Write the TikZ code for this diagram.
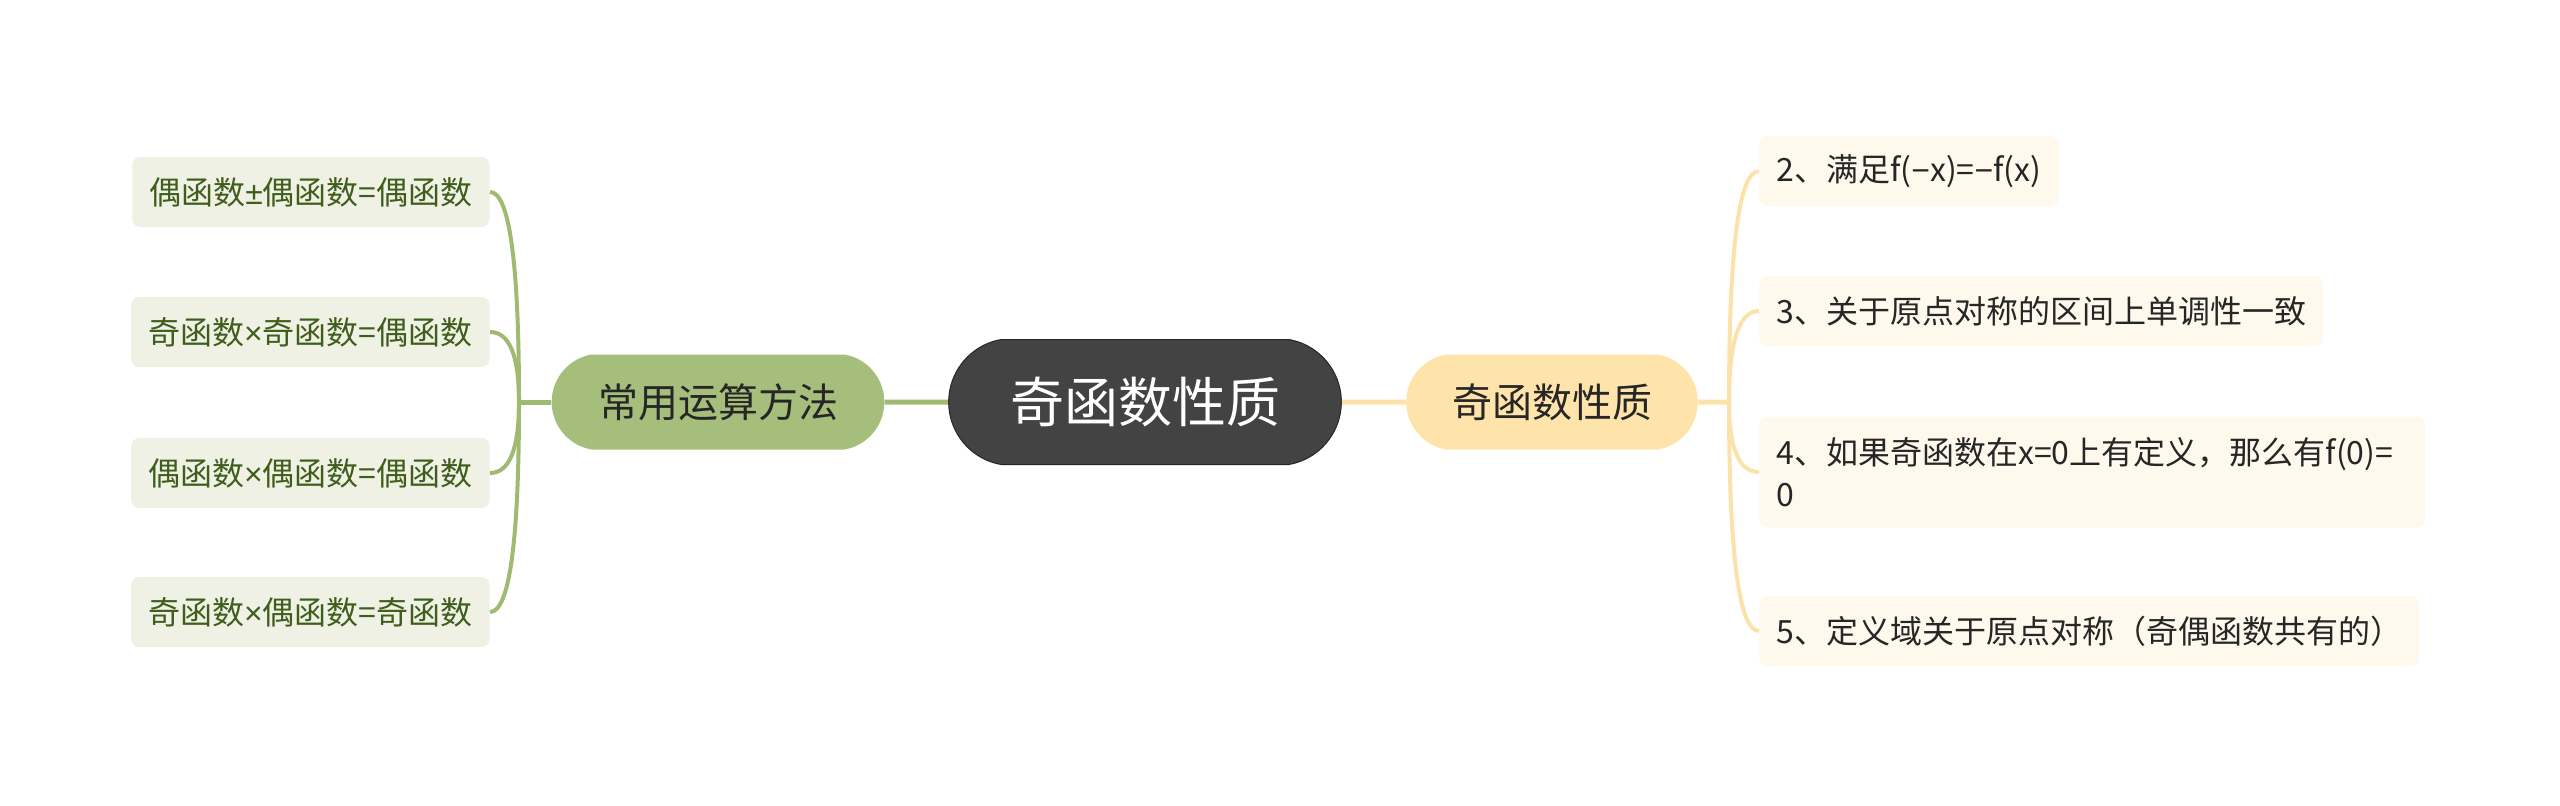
\documentclass[tikz,border=0pt]{standalone}
\usepackage{fontspec}
\setmainfont{Noto Sans CJK SC}
\newfontfamily\symfont{Liberation Sans}
\usetikzlibrary{shapes.misc,calc}

\definecolor{gline}{HTML}{A0BA72}
\definecolor{gfill}{HTML}{A5BE7B}
\definecolor{gleaffill}{HTML}{EEF1E4}
\definecolor{gleaftext}{HTML}{3F5E1B}
\definecolor{yline}{HTML}{FBE2AA}
\definecolor{yfill}{HTML}{FEE4AB}
\definecolor{yleaffill}{HTML}{FEF9EC}
\definecolor{darkfill}{HTML}{434343}
\definecolor{inktext}{HTML}{262626}

\newcommand{\plusmn}{{\symfont ±}}
\newcommand{\timessym}{{\symfont ×}}
\newcommand{\minussym}{{\symfont −}}

\tikzset{
  central/.style={rounded rectangle, rounded rectangle arc length=160, fill=darkfill,
    draw=black!85, line width=0.5pt, text=white, minimum width=203pt,
    minimum height=62.5pt, font=\fontsize{27}{32}\selectfont},
  topic/.style={rounded rectangle, rounded rectangle arc length=160,
    minimum height=47.5pt, text=inktext, font=\fontsize{20}{24}\selectfont},
  gtopic/.style={topic, fill=gfill, minimum width=173pt},
  ytopic/.style={topic, fill=yfill, minimum width=152.5pt},
  leaf/.style={rounded corners=4pt, inner xsep=8.5pt, minimum height=35pt,
    align=left, font=\fontsize{16}{21}\selectfont},
  gleaf/.style={leaf, fill=gleaffill, text=gleaftext},
  yleaf/.style={leaf, fill=yleaffill, text=inktext},
  glink/.style={draw=gline, line width=2pt},
  ylink/.style={draw=yline, line width=2pt}
}

\begin{document}
\begin{tikzpicture}[x=0.5pt, y=-0.5pt]
  \useasboundingbox (0,0) rectangle (2560,805);

  \node[central] (C) at (1145,402) {奇函数性质};
  \node[gtopic] (M) at (718,402) {常用运算方法};
  \node[ytopic] (R) at (1552,402) {奇函数性质};

  % left branch
  \node[gleaf, anchor=east] (L1) at (490,192) {偶函数\plusmn 偶函数=偶函数};
  \node[gleaf, anchor=east] (L2) at (490,332) {奇函数\timessym 奇函数=偶函数};
  \node[gleaf, anchor=east] (L3) at (490,473) {偶函数\timessym 偶函数=偶函数};
  \node[gleaf, anchor=east] (L4) at (490,612) {奇函数\timessym 偶函数=奇函数};

  % right branch
  \node[yleaf, anchor=west] (R1) at (1759,171) {2、满足f(\minussym x)=\minussym f(x)};
  \node[yleaf, anchor=west] (R2) at (1759,311) {3、关于原点对称的区间上单调性一致};
  \node[yleaf, anchor=west, minimum height=55.5pt, text width=316pt] (R3) at (1759,472)
    {4、如果奇函数在x=0上有定义，那么有f(0)=\\0};
  \node[yleaf, anchor=west] (R4) at (1759,631) {5、定义域关于原点对称（奇偶函数共有的）};

  \coordinate (lj) at (519,402);
  \coordinate (rj) at (1729,402);

  \draw[glink, line width=2.5pt] (C) -- (M);
  \draw[ylink, line width=2.5pt] (C) -- (R);
  \draw[glink, line width=2.5pt] (M) -- (lj);
  \draw[ylink, line width=2.5pt] (R) -- (rj);

  \foreach \n in {L1,L2,L3,L4}
    \draw[glink] (lj) .. controls ($(lj)!.667!(lj |- \n.east)$)
      and ($(\n.east)!.667!(lj |- \n.east)$) .. (\n.east);
  \foreach \n in {R1,R2,R3,R4}
    \draw[ylink] (rj) .. controls ($(rj)!.667!(rj |- \n.west)$)
      and ($(\n.west)!.667!(rj |- \n.west)$) .. (\n.west);
\end{tikzpicture}
\end{document}
